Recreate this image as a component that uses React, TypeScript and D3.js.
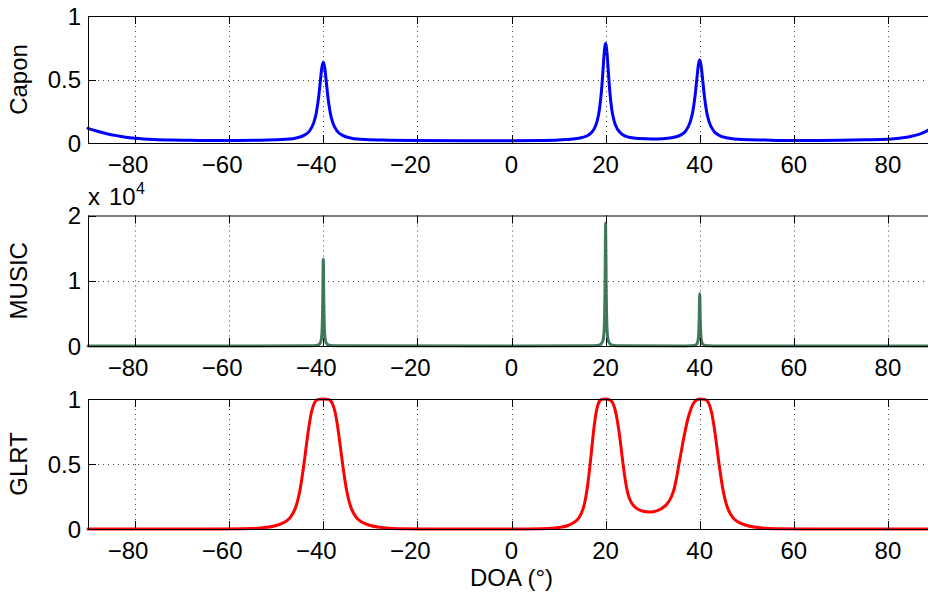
import React from 'react';
import * as d3 from 'd3';

// ---------- data ----------
const xTicks = [-80, -60, -40, -20, 0, 20, 40, 60, 80];
const caponYTicks = [0, 0.5, 1];
const musicYTicks = [0, 1, 2];
const glrtYTicks = [0, 0.5, 1];

const caponPoints: [number, number][] = [
  [-90, 0.115], [-88, 0.092], [-86, 0.073], [-84, 0.058], [-82, 0.046], [-80, 0.038], [-76, 0.028],
  [-72, 0.023], [-68, 0.021], [-64, 0.019], [-60, 0.02], [-54, 0.022], [-49, 0.027], [-46, 0.038],
  [-44, 0.062], [-43, 0.091], [-42, 0.162], [-41.5, 0.235], [-41, 0.357], [-40.6, 0.496], [-40.3, 0.595],
  [-40, 0.638], [-39.7, 0.595], [-39.4, 0.496], [-39, 0.357], [-38.5, 0.235], [-38, 0.162], [-37, 0.091],
  [-36, 0.062], [-34, 0.038], [-31, 0.027], [-26, 0.022], [-20, 0.019], [-10, 0.018], [0, 0.018],
  [6, 0.02], [10, 0.024], [13, 0.031], [15, 0.043], [16.5, 0.066], [17.5, 0.107], [18.2, 0.172],
  [18.7, 0.267], [19.1, 0.402], [19.4, 0.549], [19.7, 0.708], [20, 0.784], [20.3, 0.708], [20.6, 0.549],
  [20.9, 0.402], [21.3, 0.267], [21.8, 0.175], [22.5, 0.11], [23.5, 0.069], [25, 0.045], [27, 0.035],
  [30, 0.032], [32, 0.034], [34, 0.041], [36, 0.064], [37, 0.094], [38, 0.168], [38.5, 0.242],
  [39, 0.368], [39.4, 0.509], [39.7, 0.611], [40, 0.655], [40.3, 0.609], [40.6, 0.507], [41, 0.366],
  [41.5, 0.24], [42, 0.166], [43, 0.093], [44, 0.063], [46, 0.039], [49, 0.027], [54, 0.023],
  [60, 0.02], [70, 0.022], [75, 0.025], [80, 0.029], [82, 0.036], [84, 0.046], [85, 0.053],
  [86, 0.062], [87, 0.074], [88, 0.09], [89, 0.11], [90, 0.13],
];

// MUSIC values in units of 10^4
const musicPoints: [number, number][] = [
  [-90, 0.0003], [-60, 0.0003], [-43, 0.002], [-42, 0.0048], [-41.2, 0.0132], [-40.6, 0.051],
  [-40.3, 0.183], [-40.12, 0.665], [-40, 1.33], [-39.88, 0.665], [-39.7, 0.183], [-39.4, 0.051],
  [-38.8, 0.0132], [-38, 0.0048], [-37, 0.002], [0, 0.0003], [17, 0.002], [18, 0.0067], [18.8, 0.0186],
  [19.4, 0.072], [19.7, 0.259], [19.88, 0.94], [20, 1.88], [20.12, 0.94], [20.3, 0.259], [20.6, 0.072],
  [21.2, 0.0186], [22, 0.0067], [23, 0.002], [37, 0.001], [38, 0.0029], [38.8, 0.0079], [39.4, 0.031],
  [39.7, 0.11], [39.88, 0.4], [40, 0.8], [40.12, 0.4], [40.3, 0.11], [40.6, 0.031], [41.2, 0.0079],
  [42, 0.0029], [43, 0.001], [60, 0.0003], [90, 0.0003],
];

const glrtPoints: [number, number][] = [
  [-90, 0], [-70, 0.0003], [-62, 0.0005], [-57, 0.002], [-54, 0.006], [-52, 0.013], [-50, 0.027],
  [-49, 0.04], [-48, 0.058], [-47, 0.09], [-46, 0.155], [-45.5, 0.21], [-45, 0.29], [-44.5, 0.4],
  [-44, 0.53], [-43.5, 0.67], [-43, 0.8], [-42.5, 0.9], [-42, 0.96], [-41.5, 0.988], [-41, 0.997],
  [-40, 1], [-39, 0.997], [-38.5, 0.988], [-38, 0.96], [-37.5, 0.9], [-37, 0.8], [-36.5, 0.67],
  [-36, 0.53], [-35.5, 0.4], [-35, 0.29], [-34.5, 0.21], [-34, 0.155], [-33, 0.09], [-32, 0.058],
  [-31, 0.04], [-30, 0.027], [-28, 0.013], [-26, 0.006], [-23, 0.002], [-18, 0.0005], [-10, 0.0003],
  [0, 0.0005], [2, 0.0005], [6.4, 0.002], [8.8, 0.006], [10.4, 0.013], [12, 0.027], [12.8, 0.04],
  [13.6, 0.058], [14.4, 0.09], [15.2, 0.155], [15.6, 0.21], [16, 0.29], [16.4, 0.4], [16.8, 0.53],
  [17.2, 0.67], [17.6, 0.8], [18, 0.9], [18.4, 0.96], [18.8, 0.988], [19.2, 0.997], [20, 1],
  [21, 0.99], [21.5, 0.97], [22, 0.92], [22.5, 0.83], [23, 0.71], [23.5, 0.56], [24, 0.42],
  [24.5, 0.31], [25, 0.24], [26, 0.178], [27, 0.15], [28, 0.136], [29.4, 0.131], [31, 0.142],
  [32, 0.16], [33, 0.19], [34, 0.25], [34.5, 0.3], [35, 0.38], [35.5, 0.48], [36, 0.58], [36.5, 0.68],
  [37, 0.77], [37.5, 0.85], [38, 0.91], [38.5, 0.955], [39, 0.982], [39.5, 0.996], [40, 1],
  [41, 0.997], [41.5, 0.988], [42, 0.96], [42.5, 0.9], [43, 0.8], [43.5, 0.67], [44, 0.53],
  [44.5, 0.4], [45, 0.29], [45.5, 0.21], [46, 0.155], [47, 0.09], [48, 0.058], [49, 0.04],
  [50, 0.027], [52, 0.013], [54, 0.006], [57, 0.002], [62, 0.0005], [70, 0.0003], [90, 0],
];

// ---------- layout ----------
const W = 928;
const H = 595;
const FONT = '"Liberation Sans", Arial, Helvetica, sans-serif';
const FS = 24;
const TICK = 8;
const LEFT = 88;

const x = d3.scaleLinear().domain([-90, 90]).range([LEFT, 935]);

type PanelProps = {
  top: number;
  bottom: number;
  domain: [number, number];
  yTicks: number[];
  title: string;
  points: [number, number][];
  color: string;
};

function fmt(v: number) {
  return String(v);
}

function Panel({ top, bottom, domain, yTicks, title, points, color }: PanelProps) {
  const y = d3.scaleLinear().domain(domain).range([bottom, top]);
  const line = d3
    .line<[number, number]>()
    .x((d) => x(d[0]))
    .y((d) => y(d[1]))
    .curve(d3.curveMonotoneX);
  const right = x(90);
  const cy = (top + bottom) / 2;
  const digitW = 0.556 * FS;
  return (
    <g>
      <path d={line(points) || ''} fill="none" stroke={color} strokeWidth={3} strokeLinejoin="round" strokeLinecap="round" />
      {/* grid */}
      {xTicks.map((t) => (
        <line key={'gx' + t} x1={Math.round(x(t)) + 0.5} x2={Math.round(x(t)) + 0.5} y1={top} y2={bottom}
          stroke="#444" strokeWidth={1} strokeDasharray="1 4" />
      ))}
      {yTicks.filter((t) => t !== domain[0] && t !== domain[1]).map((t) => (
        <line key={'gy' + t} x1={LEFT} x2={right} y1={Math.round(y(t)) + 0.5} y2={Math.round(y(t)) + 0.5}
          stroke="#444" strokeWidth={1} strokeDasharray="1 4" />
      ))}
      {/* ticks */}
      {xTicks.map((t) => (
        <g key={'tx' + t}>
          <line x1={Math.round(x(t)) + 0.5} x2={Math.round(x(t)) + 0.5} y1={bottom} y2={bottom - TICK} stroke="#000" />
          <line x1={Math.round(x(t)) + 0.5} x2={Math.round(x(t)) + 0.5} y1={top} y2={top + TICK} stroke="#000" />
        </g>
      ))}
      {yTicks.map((t) => (
        <line key={'ty' + t} x1={LEFT} x2={LEFT + TICK} y1={Math.round(y(t)) + 0.5} y2={Math.round(y(t)) + 0.5} stroke="#000" />
      ))}
      {/* frame */}
      <line x1={LEFT + 0.5} x2={LEFT + 0.5} y1={top} y2={bottom + 1} stroke="#000" />
      <line x1={LEFT} x2={right} y1={top + 0.5} y2={top + 0.5} stroke="#000" />
      <line x1={LEFT} x2={right} y1={bottom + 0.5} y2={bottom + 0.5} stroke="#000" />
      {/* x tick labels */}
      {xTicks.map((t) => {
        const s = String(Math.abs(t));
        const half = (s.length * digitW) / 2;
        return t < 0 ? (
          <text key={'lx' + t} x={x(t) + half} y={bottom + 30} textAnchor="end" fontFamily={FONT} fontSize={FS}>
            {'\u2212' + s}
          </text>
        ) : (
          <text key={'lx' + t} x={x(t)} y={bottom + 30} textAnchor="middle" fontFamily={FONT} fontSize={FS}>
            {s}
          </text>
        );
      })}
      {/* y tick labels */}
      {yTicks.map((t) => (
        <text key={'ly' + t} x={81} y={y(t) + 8.5} textAnchor="end" fontFamily={FONT} fontSize={FS}>
          {fmt(t)}
        </text>
      ))}
      <text x={27} y={cy} transform={`rotate(-90 27 ${cy})`} textAnchor="middle" fontFamily={FONT} fontSize={FS}>
        {title}
      </text>
    </g>
  );
}

export default function App() {
  return (
    <svg width={W} height={H} style={{ position: 'absolute', left: 0, top: 0, background: '#fff' }}>
      <rect x={0} y={0} width={W} height={H} fill="#fff" />
      <Panel top={16} bottom={143} domain={[0, 1]} yTicks={caponYTicks} title="Capon" points={caponPoints} color="#0000ff" />
      <Panel top={215.5} bottom={346} domain={[0, 2]} yTicks={musicYTicks} title="MUSIC" points={musicPoints} color="#3e7a5c" />
      <Panel top={399} bottom={529} domain={[0, 1]} yTicks={glrtYTicks} title="GLRT" points={glrtPoints} color="#ff0000" />
      <text fontFamily={FONT} fontSize={FS}>
        <tspan x={88} y={205}>x</tspan>
        <tspan x={109} y={205}>10</tspan>
        <tspan x={136} y={194} fontSize={16}>4</tspan>
      </text>
      <text x={511.5} y={586} textAnchor="middle" fontFamily={FONT} fontSize={FS}>
        DOA (°)
      </text>
    </svg>
  );
}
